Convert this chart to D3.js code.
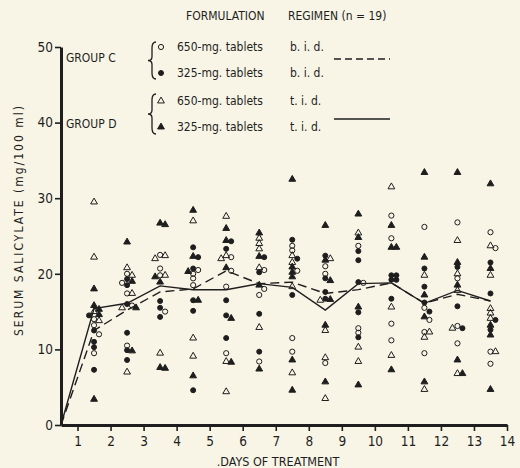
<!DOCTYPE html>
<html>
<head>
<meta charset="utf-8">
<script src="https://cdn.jsdelivr.net/npm/d3@7"></script>
<style>
  body { margin: 0; background: #f8f5e6; }
  svg { display: block; background: #f8f5e6; }
  text { font-family: "DejaVu Sans Condensed", "DejaVu Sans", sans-serif; fill: #1e1e1e; }
</style>
</head>
<body>
<svg width="520" height="468"></svg>
<script>
// columns of individual values, one column per day
var days = [1.5, 2.5, 3.5, 4.5, 5.5, 6.5, 7.5, 8.5, 9.5, 10.5, 11.5, 12.5, 13.5];

// group C, 650-mg tablets b.i.d. (open circles)
var c650 = [
  [14.0, 13.2, 9.5, 12.0],
  [20.0, 18.8, 17.4, 10.5, 15.8],
  [22.5, 20.7, 19.8, 15.0],
  [20.0, 19.4, 18.5, 20.5],
  [22.2, 20.4, 18.3, 9.5],
  [20.5, 18.0, 17.2, 8.4],
  [23.7, 23.1, 20.4, 11.5, 9.7],
  [21.0, 20.0, 8.2],
  [23.7, 18.8, 12.8, 12.2],
  [27.7, 24.7, 13.4, 11.2],
  [26.2, 13.9, 12.3, 9.5, 15.5],
  [26.8, 19.4, 13.1, 10.8],
  [25.5, 23.4, 9.7, 8.1]
];

// group C, 325-mg tablets b.i.d. (filled circles)
var c325 = [
  [14.5, 12.5, 11.0, 10.3, 7.3],
  [19.3, 18.5, 16.0, 12.2, 9.9, 8.6],
  [16.4, 15.5, 14.3],
  [23.5, 22.2, 20.7, 16.5, 15.1, 4.6],
  [24.3, 23.3, 16.5, 14.5, 11.5],
  [22.2, 20.2, 14.7, 9.7],
  [24.5, 17.2, 22.0],
  [22.4, 19.4, 17.6, 16.7],
  [23.0, 21.8, 18.9, 14.9, 11.6],
  [19.8, 19.2, 19.8, 19.2, 16.7],
  [20.7, 18.3, 16.2, 15.0],
  [20.9, 15.7, 12.8],
  [21.5, 17.4, 13.9, 12.6]
];

// group D, 650-mg tablets t.i.d. (open triangles)
var d650 = [
  [29.5, 22.2, 13.8, 15.0],
  [20.8, 19.8, 17.4, 15.5, 7.0],
  [22.0, 22.4, 19.8, 9.5],
  [27.0, 11.5, 9.1],
  [27.6, 22.4, 22.0, 8.4, 4.4],
  [24.7, 24.0, 23.3, 20.8, 12.9],
  [22.4, 21.5, 18.3, 6.9],
  [22.0, 16.5, 12.5, 8.9, 3.5],
  [25.4, 10.3, 8.4],
  [31.5, 15.6, 9.2],
  [19.8, 12.3, 11.6, 4.7],
  [24.4, 20.0, 17.8, 12.8, 6.8],
  [23.7, 19.8, 15.4, 14.8, 14.1, 9.7]
];

// group D, 325-mg tablets t.i.d. (filled triangles)
var d325 = [
  [18.0, 15.8, 15.3, 3.4, 14.6],
  [24.2, 19.0, 15.5, 9.8],
  [26.7, 26.5, 19.6, 18.9, 7.6, 7.5],
  [28.4, 22.3, 16.5, 6.5, 20.3],
  [26.0, 24.4, 20.8, 14.1, 8.3],
  [25.4, 22.3, 18.5, 7.4],
  [32.5, 20.9, 19.6, 20.2, 8.6, 4.6],
  [26.4, 21.8, 19.1, 16.6, 13.2, 5.7],
  [27.9, 24.8, 15.6, 5.3],
  [26.4, 23.5, 23.5, 7.3],
  [33.4, 22.2, 17.2, 14.3, 5.7],
  [33.4, 21.5, 18.5, 8.6, 6.8],
  [31.9, 20.7, 13.2, 11.9, 4.7]
];

// group means
var meanDays = [0.5, 1.5, 2.5, 3.5, 4.5, 5.5, 6.5, 7.5, 8.5, 9.5, 10.5, 11.5, 12.5, 13.5];
var meanC = [0, 12.5, 15.2, 17.6, 18.0, 20.4, 18.7, 18.9, 17.4, 17.9, 18.8, 16.1, 17.3, 16.4];
var meanD = [0, 15.4, 16.1, 18.4, 17.9, 17.9, 18.7, 18.2, 15.2, 18.7, 18.8, 16.1, 17.8, 16.4];

var xTicks = [1, 2, 3, 4, 5, 6, 7, 8, 9, 10, 11, 12, 13, 14];
var yTicks = [0, 10, 20, 30, 40, 50];

var legendRows = [
  {type: "c650", form: "650-mg. tablets", reg: "b. i. d."},
  {type: "c325", form: "325-mg. tablets", reg: "b. i. d."},
  {type: "d650", form: "650-mg. tablets", reg: "t. i. d."},
  {type: "d325", form: "325-mg. tablets", reg: "t. i. d."}
];

var ink = "#1e1e1e";
var svg = d3.select("svg");

var x = d3.scaleLinear().domain([0.5, 14]).range([61, 507]);
var y = d3.scaleLinear().domain([0, 50]).range([425, 47]);

var tri = d3.symbol().type(d3.symbolTriangle).size(20);

function drawMark(sel, type) {
    if (type == "c650" || type == "c325") {
        sel.append("circle")
            .attr("r", type == "c325" ? 2.5 : 2.6)
            .attr("fill", type == "c325" ? ink : "none")
            .attr("stroke", ink)
            .attr("stroke-width", 1);
    } else {
        sel.append("path")
            .attr("d", tri)
            .attr("fill", type == "d325" ? ink : "none")
            .attr("stroke", ink)
            .attr("stroke-width", 1);
    }
}

// axes
var yAxis = svg.append("g")
    .attr("transform", "translate(" + x(0.5) + ",0)")
    .call(d3.axisLeft(y).tickValues(yTicks).tickSize(6).tickSizeOuter(0).tickPadding(2));
var xAxis = svg.append("g")
    .attr("transform", "translate(0," + y(0) + ")")
    .call(d3.axisBottom(x).tickValues(xTicks).tickSize(6).tickSizeOuter(0).tickPadding(5));

[yAxis, xAxis].forEach(function(ax) {
    ax.select(".domain").attr("stroke", ink).attr("stroke-width", 3);
    ax.selectAll(".tick line").attr("stroke", ink).attr("stroke-width", 1.6);
    ax.selectAll(".tick text").attr("font-size", 13.5).attr("fill", ink)
        .style("font-family", "'DejaVu Sans Condensed', sans-serif");
});

svg.append("text")
    .attr("transform", "translate(23,220) rotate(-90)")
    .attr("text-anchor", "middle")
    .attr("font-size", 12)
    .attr("letter-spacing", 2)
    .text("SERUM SALICYLATE (mg/100 ml)");

svg.append("text")
    .attr("x", 278)
    .attr("y", 466)
    .attr("text-anchor", "middle")
    .attr("font-size", 12.5)
    .text(".DAYS OF TREATMENT");

// mean lines
var line = d3.line()
    .x(function(d, i) { return x(meanDays[i]); })
    .y(function(d) { return y(d); });

svg.append("path")
    .attr("d", line(meanC))
    .attr("fill", "none")
    .attr("stroke", ink)
    .attr("stroke-width", 1.4)
    .attr("stroke-dasharray", "9,5");

svg.append("path")
    .attr("d", line(meanD))
    .attr("fill", "none")
    .attr("stroke", ink)
    .attr("stroke-width", 1.4);

// individual values, nudged sideways where they would sit on top of each other
var series = {c650: c650, c325: c325, d650: d650, d325: d325};
var points = [];
days.forEach(function(day, i) {
    var col = [];
    Object.keys(series).forEach(function(k) {
        series[k][i].forEach(function(v) { col.push({day: day, v: v, type: k}); });
    });
    col.sort(function(a, b) { return b.v - a.v; });
    var placed = [];
    col.forEach(function(p) {
        var offs = [0, 5, -5, 9];
        for (var j = 0; j < offs.length; j++) {
            var px = x(p.day) + offs[j], py = y(p.v);
            var clash = placed.some(function(q) { return Math.abs(q.px - px) < 4.5 && Math.abs(q.py - py) < 4.5; });
            if (!clash || j == offs.length - 1) { p.px = px; p.py = py; break; }
        }
        placed.push(p);
        points.push(p);
    });
});

svg.append("g").selectAll("g")
    .data(points)
    .enter()
        .append("g")
        .attr("transform", function(d) { return "translate(" + d.px + "," + d.py + ")"; })
        .each(function(d) { drawMark(d3.select(this), d.type); });

// legend
var lg = svg.append("g").attr("font-size", 12);
lg.append("text").attr("x", 186).attr("y", 20).text("FORMULATION");
lg.append("text").attr("x", 288).attr("y", 20).text("REGIMEN (n = 19)");

var rowY = [47, 73, 101, 127];
legendRows.forEach(function(r, i) {
    drawMark(lg.append("g").attr("transform", "translate(161," + rowY[i] + ")"), r.type);
    lg.append("text").attr("x", 177).attr("y", rowY[i] + 4).text(r.form);
    lg.append("text").attr("x", 290).attr("y", rowY[i] + 4).text(r.reg);
});

lg.append("text").attr("x", 66).attr("y", 62).text("GROUP  C");
lg.append("text").attr("x", 66).attr("y", 128).text("GROUP  D");

// braces
function brace(cx, y0, y1) {
    var m = (y0 + y1) / 2;
    return "M" + (cx + 4) + "," + y0 +
        " Q" + cx + "," + y0 + " " + cx + "," + (y0 + 6) +
        " L" + cx + "," + (m - 4) +
        " Q" + cx + "," + m + " " + (cx - 4) + "," + m +
        " Q" + cx + "," + m + " " + cx + "," + (m + 4) +
        " L" + cx + "," + (y1 - 6) +
        " Q" + cx + "," + y1 + " " + (cx + 4) + "," + y1;
}
lg.append("path").attr("d", brace(152, 42, 79)).attr("fill", "none").attr("stroke", ink).attr("stroke-width", 1.3);
lg.append("path").attr("d", brace(152, 94, 134)).attr("fill", "none").attr("stroke", ink).attr("stroke-width", 1.3);

lg.append("line").attr("x1", 334).attr("x2", 390).attr("y1", 59).attr("y2", 59)
    .attr("stroke", ink).attr("stroke-width", 1.4).attr("stroke-dasharray", "7,4");
lg.append("line").attr("x1", 334).attr("x2", 390).attr("y1", 119).attr("y2", 119)
    .attr("stroke", ink).attr("stroke-width", 1.4);
</script>
</body>
</html>
